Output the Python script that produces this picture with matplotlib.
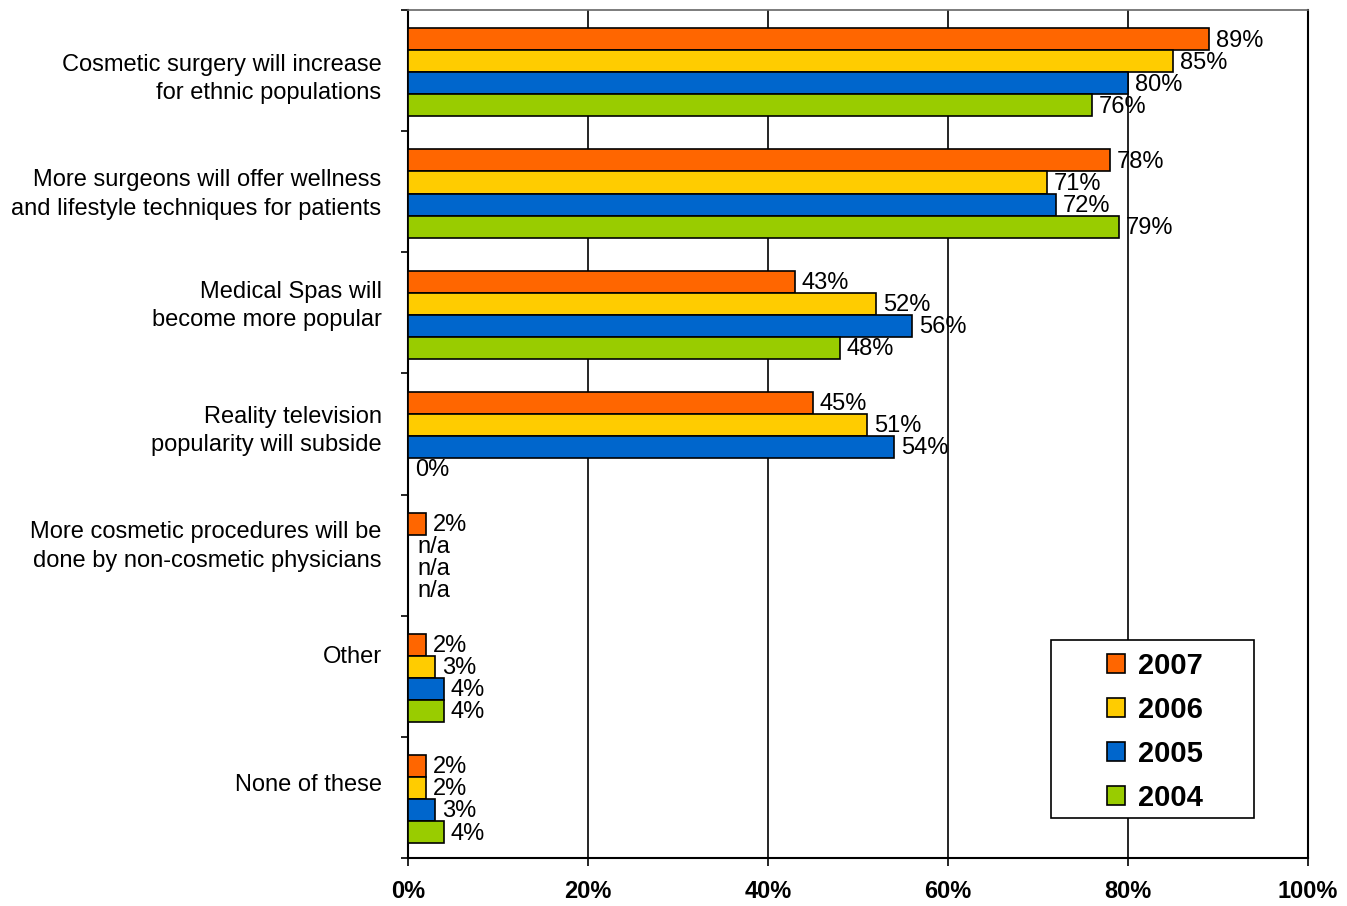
import matplotlib.pyplot as plt
import numpy as np
from matplotlib.patches import Rectangle

plt.rcParams['font.family'] = ['Liberation Sans', 'DejaVu Sans']

categories = ['Cosmetic surgery will increase\nfor ethnic populations',
              'More surgeons will offer wellness\nand lifestyle techniques for patients',
              'Medical Spas will\nbecome more popular',
              'Reality television\npopularity will subside',
              'More cosmetic procedures will be\ndone by non-cosmetic physicians',
              'Other',
              'None of these']
years = ['2007', '2006', '2005', '2004']
colors = ['#FF6600', '#FFCC00', '#0066CC', '#99CC00']

# None = n/a
v2007 = [89, 78, 43, 45, 2, 2, 2]
v2006 = [85, 71, 52, 51, None, 3, 2]
v2005 = [80, 72, 56, 54, None, 4, 3]
v2004 = [76, 79, 48, 0, None, 4, 4]
series = [v2007, v2006, v2005, v2004]

# small vertical nudges of the category labels (excel puts them unevenly)
label_shift = [0.021, -0.025, -0.103, -0.074, -0.12, -0.18, -0.124]

fig = plt.figure(figsize=(13.47, 9.06), dpi=100)
ax = fig.add_axes([408/1347, 1 - 858/906, 900/1347, 848/906])

y = np.arange(len(categories))
h = 0.182
for i, (vals, c, yr) in enumerate(zip(series, colors, years)):
    pos = y - 1.5*h + i*h + 0.015
    w = [v if v is not None else 0 for v in vals]
    ax.barh(pos, w, height=h, color=c, edgecolor='black', linewidth=1.2,
            label=yr, zorder=3)
    for p, v in zip(pos, vals):
        txt = 'n/a' if v is None else '%d%%' % v
        x = 1.0 if v is None else v + 0.75
        ax.text(x, p + 0.01, txt, va='center', ha='left', fontsize=17, zorder=4)

ax.set_xlim(0, 100)
ax.set_ylim(len(categories) - 0.5, -0.5)
ax.set_xticks(np.arange(0, 101, 20))
ax.set_xticklabels(['%d%%' % t for t in range(0, 101, 20)], fontsize=17, fontweight='bold')
ax.tick_params(axis='x', direction='out', length=6, width=1.2, pad=10)
ax.set_yticks(y + np.array(label_shift))
ax.set_yticklabels(categories, fontsize=17, linespacing=1.38)
ax.tick_params(axis='y', length=0, pad=19)
ax.set_yticks(np.arange(-0.5, len(categories)), minor=True)
ax.tick_params(axis='y', which='minor', direction='out', length=5, width=1.2)

ax.grid(axis='x', color='black', linewidth=1.2, zorder=0)
for s in ['left', 'bottom', 'right']:
    ax.spines[s].set_linewidth(1.5)
ax.spines['top'].set_color('#666666')
ax.spines['top'].set_linewidth(1.2)

box = Rectangle((0.714, 0.047), 0.226, 0.21, transform=ax.transAxes,
                facecolor='white', edgecolor='black', linewidth=1.2, zorder=5)
ax.add_patch(box)
leg = ax.legend(loc='center', bbox_to_anchor=(0.83, 0.149), frameon=False,
                prop={'size': 21, 'weight': 'bold'}, handlelength=0.6,
                handleheight=0.65, handletextpad=0.45, labelspacing=0.55)
leg.set_zorder(6)

fig.savefig('out.png', dpi=100)
